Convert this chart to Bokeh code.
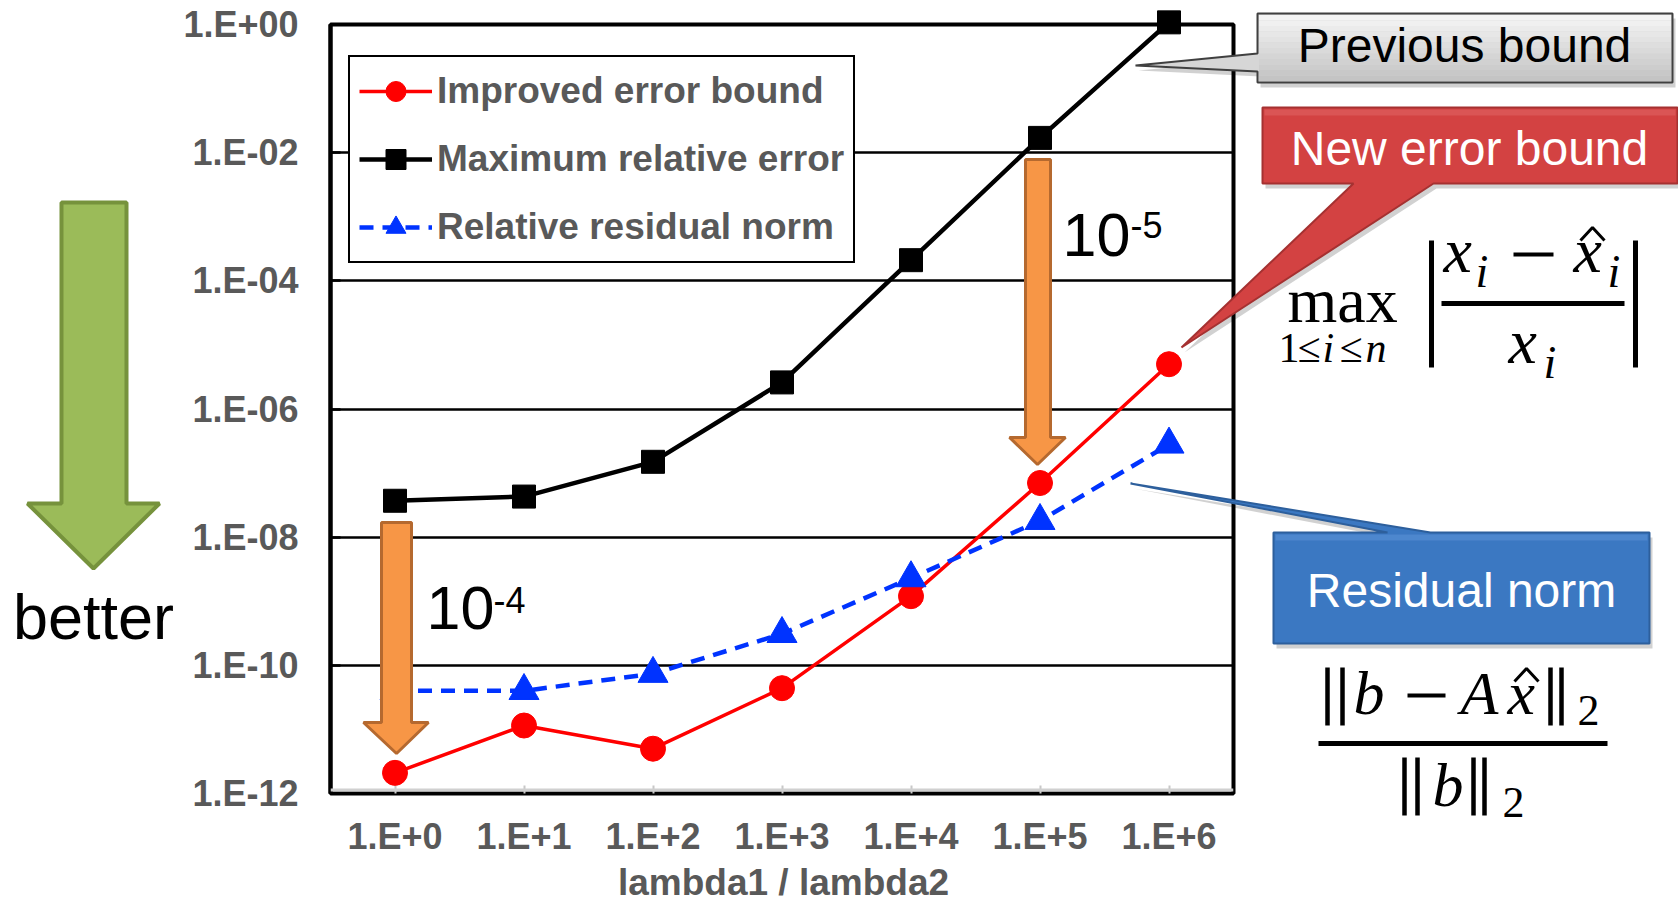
from bokeh.plotting import figure
from bokeh.models import (FactorRange, FixedTicker, CustomJSTickFormatter, Legend,
                          LegendItem, Span)
from bokeh.embed import file_html
from bokeh.resources import INLINE
from bokeh.core.properties import value

# ---------------- data ----------------
categories = ["1.E+0", "1.E+1", "1.E+2", "1.E+3", "1.E+4", "1.E+5", "1.E+6"]
improved_bound = [2.1e-12, 1.15e-11, 5.0e-12, 4.4e-11, 1.2e-9, 7.0e-8, 5.0e-6]
max_rel_error = [3.7e-8, 4.3e-8, 1.5e-7, 2.6e-6, 2.1e-4, 1.7e-2, 1.08]
rel_residual = [4.0e-11, 4.0e-11, 7.4e-11, 3.1e-10, 2.3e-9, 1.8e-8, 2.8e-7]
y_tick_values = [1e-12, 1e-10, 1e-8, 1e-6, 1e-4, 1e-2, 1e0]
y_tick_labels = ["1.E-12", "1.E-10", "1.E-08", "1.E-06", "1.E-04", "1.E-02", "1.E+00"]
series_names = ["Improved error bound", "Maximum relative error", "Relative residual norm"]

# ---------------- layout ----------------
W, H = 1678, 902
FL, FT, FW, FH = 330, 24, 903, 769
LOG_SPAN = 12.0

p = figure(x_range=FactorRange(factors=categories), y_axis_type="log",
           y_range=(1e-12, 1e0), frame_width=FW, frame_height=FH,
           min_border_left=FL, min_border_top=FT,
           min_border_right=W - FL - FW, min_border_bottom=H - FT - FH,
           output_backend="svg", toolbar_location=None)
p.background_fill_color = "white"
p.border_fill_color = "white"
p.outline_line_color = "black"
p.outline_line_width = 4

p.xgrid.grid_line_color = None
p.ygrid.grid_line_color = "black"
p.ygrid.grid_line_width = 2.5

lab_font = "Liberation Sans"
p.yaxis.ticker = FixedTicker(ticks=y_tick_values)
p.yaxis.formatter = CustomJSTickFormatter(
    args=dict(vals=y_tick_values, labs=y_tick_labels),
    code="""
let best = 0, bd = 1e9;
for (let i = 0; i < vals.length; i++) {
  const d = Math.abs(Math.log10(vals[i]) - Math.log10(tick));
  if (d < bd) { bd = d; best = i; }
}
return labs[best];
""")
p.yaxis.minor_tick_line_color = None
p.yaxis.major_tick_in = 10
p.yaxis.major_tick_out = 0
p.yaxis.major_tick_line_width = 2.5
p.yaxis.axis_line_width = 4
p.yaxis.major_label_standoff = 32
for ax in (p.yaxis, p.xaxis):
    ax.major_label_text_font = lab_font
    ax.major_label_text_font_style = "bold"
    ax.major_label_text_font_size = "36px"
    ax.major_label_text_color = "#595959"
p.xaxis.axis_line_color = None
p.xaxis.major_tick_in = 8
p.xaxis.major_tick_out = 0
p.xaxis.major_tick_line_color = "#c8c8c8"
p.xaxis.major_tick_line_width = 2
p.xaxis.major_label_standoff = 22


def dx(X):
    return (X - FL) / FW * len(categories)


def dy(Y):
    return 10 ** (-(Y - FT) / FH * LOG_SPAN)


p.add_layout(Span(location=dy(789.5), dimension="width", line_color="#d0d0d0", line_width=3))

# ---------------- series ----------------
r_line = p.line(categories, improved_bound, line_color="#ff0000", line_width=3.5)
r_sc = p.scatter(categories, improved_bound, marker="circle", size=25,
                 fill_color="#ff0000", line_color="#ff0000", level="overlay")
k_line = p.line(categories, max_rel_error, line_color="black", line_width=4.5)
k_sc = p.scatter(categories, max_rel_error, marker="square", size=23,
                 fill_color="black", line_color="black", level="overlay")
b_line = p.line(categories, rel_residual, line_color="#0033ff", line_width=4.5,
                line_dash="14 9")
b_sc = p.scatter(categories, rel_residual, marker="triangle", size=30,
                 fill_color="#0033ff", line_color="#0033ff", level="overlay")

legend = Legend(items=[LegendItem(label=series_names[0], renderers=[r_line, r_sc]),
                       LegendItem(label=series_names[1], renderers=[k_line, k_sc]),
                       LegendItem(label=series_names[2], renderers=[b_line, b_sc])],
                location=(18, 530), orientation="vertical",
                label_text_font=lab_font, label_text_font_style="bold",
                label_text_font_size="37px", label_text_color="#595959",
                glyph_width=73, glyph_height=50, label_height=50, spacing=18,
                padding=9, label_standoff=5, margin=0,
                border_line_color="black", border_line_width=2.5,
                border_line_alpha=1.0,
                background_fill_color="white", background_fill_alpha=1.0)
p.add_layout(legend)


# ---------------- decorations (page-pixel positions) ----------------
def put_poly(pts, fill, line, lw, alpha=1.0):
    p.patch(x=[dx(a) for a, b in pts], y=[dy(b) for a, b in pts],
            fill_color=fill, fill_alpha=alpha, line_color=line, line_width=lw,
            level="overlay")


def put_text(s, X, Y, size, font="Liberation Sans", style="normal", color="black",
             align="left"):
    # Y is the wanted baseline; text is anchored at the middle of its font box
    px = float(size.replace("px", ""))
    k = 0.3375 if "Serif" in font else 0.3465
    p.text(x=[dx(X)], y=[dy(Y - k * px)], text=[s], text_font=value(font),
           text_font_size=size, text_font_style=style, text_color=color,
           text_align=align, text_baseline="middle", level="overlay")


def put_seg(X0, Y0, X1, Y1, lw, color="black"):
    p.segment(x0=[dx(X0)], y0=[dy(Y0)], x1=[dx(X1)], y1=[dy(Y1)],
              line_width=lw, line_color=color, line_cap="butt", level="overlay")


def shift(pts, ox, oy):
    return [(a + ox, b + oy) for a, b in pts]


# orange arrows
arrow1 = [(381, 522), (411, 522), (411, 722), (428, 722), (396, 753), (363, 722), (381, 722)]
arrow2 = [(1025, 159), (1050, 159), (1050, 437), (1065, 437), (1037, 464), (1009, 437), (1025, 437)]
put_poly(arrow1, "#f79646", "#b5692f", 3)
put_poly(arrow2, "#f79646", "#b5692f", 3)
put_text("10", 426, 629, "61px")
put_text("-4", 493, 612, "36px")
put_text("10", 1062, 256, "61px")
put_text("-5", 1130, 237, "36px")

# green arrow + better
green = [(61, 202), (126, 202), (126, 503), (159, 503), (93, 568), (27, 503), (61, 503)]
put_poly(green, "#9bbb59", "#76923c", 4)
put_text("better", 93, 638, "63px", align="center")

# callouts
prev_box = [(1257, 13), (1672, 13), (1672, 82), (1257, 82), (1257, 71), (1135, 65), (1257, 53)]
new_box = [(1262, 107), (1677, 107), (1677, 183), (1433, 183), (1181, 347), (1353, 183), (1262, 183)]
res_box = [(1273, 532), (1387, 532), (1130, 483), (1430, 532), (1649, 532), (1649, 643), (1273, 643)]
for box in (prev_box, new_box, res_box):
    put_poly(shift(box, 3, 5), "#000000", None, 0, alpha=0.18)
put_poly(prev_box, "#d6d6d6", "#404040", 2)
# soft vertical gradient inside the grey box
n_bands = 12
top, bot = 14.5, 80.5
for i in range(n_bands):
    y0 = top + (bot - top) * i / n_bands
    y1 = top + (bot - top) * (i + 1) / n_bands
    t = i / (n_bands - 1)
    g = int(round(244 - t * (244 - 196)))
    col = "#%02x%02x%02x" % (g, g, g)
    put_poly([(1258.5, y0), (1670.5, y0), (1670.5, y1), (1258.5, y1)], col, None, 0)
put_poly(new_box, "#d34242", "#a53131", 2)
put_poly([(1264, 109), (1675, 109), (1675, 115), (1264, 115)], "#e06262", None, 0, alpha=0.6)
put_poly(res_box, "#3b78c2", "#2d5f9c", 2)
put_poly([(1275, 534), (1647, 534), (1647, 540), (1275, 540)], "#5a91d6", None, 0, alpha=0.6)
put_text("Previous bound", 1464, 62, "48px", align="center")
put_text("New error bound", 1469, 165, "48px", color="white", align="center")
put_text("Residual norm", 1461, 607, "48px", color="white", align="center")

# formula 1: max |(x_i - x^_i)/x_i|
serif = "Liberation Serif"
put_text("max", 1287, 322, "64px", font=serif)
for s, X, it in [("1", 1278, False), ("≤", 1297, False), ("i", 1322, True),
                 ("≤", 1339, False), ("n", 1365, True)]:
    put_text(s, X, 362, "42px", font=serif, style="italic" if it else "normal")
put_seg(1431, 240, 1431, 367, 5)
put_seg(1635, 240, 1635, 367, 5)
put_text("x", 1443, 272, "64px", font=serif, style="italic")
put_text("i", 1475, 287, "46px", font=serif, style="italic")
put_seg(1513, 254, 1553, 254, 4)
put_text("x", 1573, 272, "64px", font=serif, style="italic")
p.line(x=[dx(1580), dx(1592), dx(1604)], y=[dy(240), dy(227), dy(240)],
       line_color="black", line_width=3, level="overlay")
put_text("i", 1607, 287, "46px", font=serif, style="italic")
put_seg(1441, 303, 1624, 303, 5)
put_text("x", 1508, 363, "64px", font=serif, style="italic")
put_text("i", 1543, 378, "46px", font=serif, style="italic")

# formula 2: ||b - A x^||_2 / ||b||_2
for X in (1327, 1342, 1550, 1561):
    put_seg(X, 667, X, 725, 4.5)
put_text("b", 1353, 713, "62px", font=serif, style="italic")
put_seg(1407, 695, 1445, 695, 4)
put_text("A", 1460, 713, "62px", font=serif, style="italic")
put_text("x", 1507, 713, "62px", font=serif, style="italic")
p.line(x=[dx(1514), dx(1526), dx(1538)], y=[dy(681), dy(668), dy(681)],
       line_color="black", line_width=3, level="overlay")
put_text("2", 1577, 725, "44px", font=serif)
put_seg(1318, 743, 1607, 743, 5)
for X in (1404, 1417, 1473, 1484):
    put_seg(X, 757, X, 815, 4.5)
put_text("b", 1432, 805, "62px", font=serif, style="italic")
put_text("2", 1502, 817, "44px", font=serif)

# x-axis title
put_text("lambda1 / lambda2", 783, 895, "37px", style="bold", color="#595959", align="center")

open("out.html", "w").write(file_html(p, INLINE))
